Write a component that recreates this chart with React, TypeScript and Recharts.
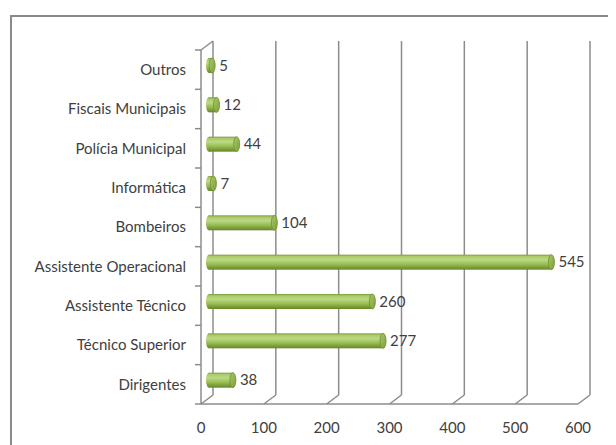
import React from "react";
import { BarChart, Bar, XAxis, YAxis, CartesianGrid, LabelList } from "recharts";

const categories = [
  "Outros",
  "Fiscais Municipais",
  "Polícia Municipal",
  "Informática",
  "Bombeiros",
  "Assistente Operacional",
  "Assistente Técnico",
  "Técnico Superior",
  "Dirigentes",
];
const values = [5, 12, 44, 7, 104, 545, 260, 277, 38];
const xTicks = [0, 100, 200, 300, 400, 500, 600];

const data = categories.map((name, i) => ({ name, value: values[i] }));

const W = 608;
const H = 437;
const MARGIN = { top: 42, right: 38, bottom: 0, left: 0 };
const YW = 193;
const XH = 41;
const PLOT_TOP = MARGIN.top;
const PLOT_BOTTOM = H - XH;
const BAND = (PLOT_BOTTOM - PLOT_TOP) / categories.length;
const DX = 12;
const DY = -9;
const BDX = 8;
const BDY = -4;
const FONT = "Lato, 'Liberation Sans', sans-serif";
const TEXT = "#404040";
const GRID = "#8c8c8c";

const GridLine = (props: any) => {
  const { x1, y1, y2, index } = props;
  const first = index === 0;
  return (
    <g key={`g-${index}-${x1}`}>
      <line x1={x1} y1={y2} x2={x1 + DX} y2={y2 + DY} stroke={GRID} strokeWidth={1.5} />
      <line x1={x1 + DX} y1={y1 + DY} x2={x1 + DX} y2={y2 + DY} stroke={GRID} strokeWidth={1.5} />
      {first && (
        <line x1={x1} y1={y1} x2={x1 + DX} y2={y1 + DY} stroke={GRID} strokeWidth={1.5} />
      )}
    </g>
  );
};

const YTick = (props: any) => {
  const { x, y, payload, index } = props;
  const last = index === categories.length - 1;
  return (
    <g>
      <line x1={x - 6} y1={y - BAND / 2} x2={x} y2={y - BAND / 2} stroke={GRID} strokeWidth={1.5} />
      {last && (
        <line x1={x - 6} y1={y + BAND / 2} x2={x} y2={y + BAND / 2} stroke={GRID} strokeWidth={1.5} />
      )}
      <text x={x - 15} y={y} dy="0.35em" textAnchor="end" fontFamily={FONT} fontSize={15} fill={TEXT}>
        {payload.value}
      </text>
    </g>
  );
};

const XTick = (props: any) => {
  const { x, y, payload } = props;
  return (
    <text x={x} y={y + 24} dy="0.35em" textAnchor="middle" fontFamily={FONT} fontSize={15} fill={TEXT}>
      {payload.value}
    </text>
  );
};

const Cylinder = (props: any) => {
  const { x, y, width, height } = props;
  const bx = x + BDX;
  const by = y + BDY;
  const rx = Math.min(3, height / 4);
  const ry = height / 2;
  const cy = by + ry;
  const w = Math.max(width, 0);
  return (
    <g>
      <ellipse cx={bx} cy={cy} rx={rx} ry={ry} fill="url(#barGrad)" />
      <rect x={bx} y={by} width={w} height={height} fill="url(#barGrad)" />
      <ellipse cx={bx + w} cy={cy} rx={rx} ry={ry} fill="url(#capGrad)" stroke="#6f8f31" strokeWidth={0.8} />
    </g>
  );
};

const ValueLabel = (props: any) => {
  const { x, y, width, height, value } = props;
  const lx = x + BDX + Math.max(width, 0) + 3 + 4;
  const ly = y + BDY + height / 2;
  return (
    <text x={lx} y={ly} dy="0.35em" textAnchor="start" fontFamily={FONT} fontSize={15} fill={TEXT}>
      {value}
    </text>
  );
};

export default function App() {
  return (
    <div style={{ position: "relative", width: W, height: H, overflow: "hidden" }}>
      <div
        style={{
          position: "absolute",
          left: 2,
          top: 7,
          width: 800,
          height: 800,
          border: "2px solid #8a8a8a",
          boxSizing: "border-box",
        }}
      />
      <div style={{ position: "absolute", left: 0, top: 0 }}>
        <BarChart width={W} height={H} data={data} layout="vertical" margin={MARGIN} barSize={15}>
          <defs>
            <linearGradient id="barGrad" x1="0" y1="0" x2="0" y2="1">
              <stop offset="0%" stopColor="#7a9a38" />
              <stop offset="12%" stopColor="#aacb66" />
              <stop offset="35%" stopColor="#bcd985" />
              <stop offset="65%" stopColor="#97bc50" />
              <stop offset="100%" stopColor="#66852a" />
            </linearGradient>
            <linearGradient id="capGrad" x1="0" y1="0" x2="1" y2="1">
              <stop offset="0%" stopColor="#a9c96a" />
              <stop offset="100%" stopColor="#7e9e3c" />
            </linearGradient>
          </defs>
          <CartesianGrid horizontal={false} vertical={GridLine} />
          <XAxis
            type="number"
            domain={[0, 600]}
            ticks={xTicks}
            height={XH}
            axisLine={{ stroke: GRID, strokeWidth: 1.5 }}
            tickLine={false}
            tickSize={0}
            tickMargin={0}
            tick={XTick}
            interval={0}
          />
          <YAxis
            type="category"
            dataKey="name"
            width={YW}
            axisLine={{ stroke: GRID, strokeWidth: 1.5 }}
            tickLine={false}
            tickSize={0}
            tickMargin={0}
            tick={YTick}
            interval={0}
          />
          <Bar dataKey="value" shape={Cylinder} isAnimationActive={false}>
            <LabelList dataKey="value" content={ValueLabel} />
          </Bar>
        </BarChart>
      </div>
    </div>
  );
}
